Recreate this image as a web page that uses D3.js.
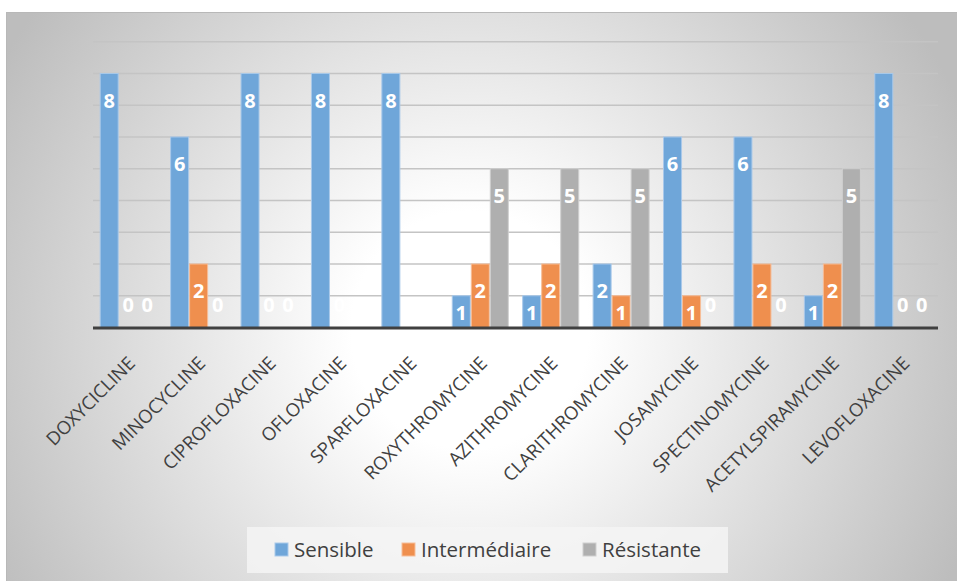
<!DOCTYPE html>
<html>
<head>
<meta charset="utf-8">
<script src="https://cdn.jsdelivr.net/npm/d3@7"></script>
<style>
  html, body { margin: 0; padding: 0; background: #ffffff; }
  svg { display: block; }
</style>
</head>
<body>
<svg id="chart" width="957" height="581"></svg>
<script>
// Antibiotic susceptibility counts per molecule
const categories = [
  "DOXYCICLINE", "MINOCYCLINE", "CIPROFLOXACINE", "OFLOXACINE", "SPARFLOXACINE",
  "ROXYTHROMYCINE", "AZITHROMYCINE", "CLARITHROMYCINE", "JOSAMYCINE",
  "SPECTINOMYCINE", "ACETYLSPIRAMYCINE", "LEVOFLOXACINE"
];
const seriesNames = ["Sensible", "Intermédiaire", "Résistante"];
const sensible      = [8, 6, 8, 8, 8, 1, 1, 2, 6, 6, 1, 8];
const intermediaire = [0, 2, 0, 0, 0, 2, 2, 1, 1, 2, 2, 0];
const resistante    = [0, 0, 0, 0, 0, 5, 5, 5, 0, 0, 5, 0];
const gridValues = [1, 2, 3, 4, 5, 6, 7, 8, 9];

const seriesValues = [sensible, intermediaire, resistante];
const colors = ["#6fa6d9", "#ef8f4e", "#afafaf"];
const strokes = ["#a9c9ea", "#f6bd98", "#cfcfcf"];

const svg = d3.select("#chart");
const W = 957, H = 581;
const font = "'Open Sans', 'Noto Sans', sans-serif";

// background panel with a soft radial shading
const defs = svg.append("defs");
const grad = defs.append("radialGradient")
  .attr("id", "bg").attr("gradientUnits", "userSpaceOnUse")
  .attr("cx", 470).attr("cy", 330).attr("r", 540);
grad.append("stop").attr("offset", 0).attr("stop-color", "#ffffff");
grad.append("stop").attr("offset", 0.22).attr("stop-color", "#ffffff");
grad.append("stop").attr("offset", 1).attr("stop-color", "#bdbdbd");

svg.append("rect").attr("x", 6).attr("y", 12).attr("width", W - 6).attr("height", H - 12)
  .attr("fill", "url(#bg)");
svg.append("line").attr("x1", 6).attr("x2", W).attr("y1", 12.5).attr("y2", 12.5)
  .attr("stroke", "#b8b8b8").attr("stroke-width", 1);
svg.append("line").attr("x1", 6.5).attr("x2", 6.5).attr("y1", 12).attr("y2", H)
  .attr("stroke", "#b8b8b8").attr("stroke-width", 1);

const left = 93, right = 938, baseY = 327.5, topY = 41.7;

const x = d3.scaleBand().domain(categories).range([left, right])
  .paddingInner(0.19).paddingOuter(0.095);
const xs = d3.scaleBand().domain(seriesNames).range([0, x.bandwidth()]);
const y = d3.scaleLinear().domain([0, 9]).range([baseY, topY]);

// horizontal gridlines
svg.append("g").selectAll("line").data(gridValues).join("line")
  .attr("x1", left).attr("x2", right)
  .attr("y1", d => y(d)).attr("y2", d => y(d))
  .attr("stroke", "#c4c4c4").attr("stroke-width", 1.5);

// bars
const groups = svg.append("g").selectAll("g").data(categories).join("g")
  .attr("transform", d => `translate(${x(d)},0)`);

const cells = groups.selectAll("g").data((c, i) => seriesNames.map((s, k) => ({
  series: s, k, value: seriesValues[k][i]
}))).join("g");

cells.append("rect")
  .attr("x", d => xs(d.series) + 0.5)
  .attr("width", xs.bandwidth() - 1)
  .attr("y", d => y(d.value))
  .attr("height", d => baseY - y(d.value))
  .attr("fill", d => colors[d.k])
  .attr("stroke", d => strokes[d.k]).attr("stroke-width", 1);

// value labels, placed inside the bar end
function labelY(v) {
  if (v >= 2) return y(v) + 27;
  if (v === 1) return y(v) + 17;
  return baseY - 23;
}
cells.append("text")
  .attr("x", d => xs(d.series) + xs.bandwidth() / 2)
  .attr("y", d => labelY(d.value))
  .attr("dy", "0.36em")
  .attr("text-anchor", "middle")
  .attr("font-family", font).attr("font-weight", 700).attr("font-size", 20)
  .attr("fill", "#ffffff")
  .text(d => d.value);

// category axis
const xAxis = svg.append("g").attr("transform", `translate(0,${baseY})`)
  .call(d3.axisBottom(x).tickSize(0).tickPadding(0));
xAxis.select(".domain").remove();
svg.append("line").attr("x1", left).attr("x2", right).attr("y1", baseY + 0.5).attr("y2", baseY + 0.5)
  .attr("stroke", "#404040").attr("stroke-width", 3);
xAxis.selectAll(".tick text")
  .attr("font-family", font).attr("font-size", 18.5).attr("fill", "#404040")
  .attr("text-anchor", "end")
  .attr("dy", 0).attr("y", 0)
  .attr("transform", "translate(8,37) rotate(-45)");

// legend
const lg = svg.append("g");
lg.append("rect").attr("x", 247).attr("y", 527).attr("width", 481).attr("height", 46)
  .attr("fill", "#f4f4f4").attr("fill-opacity", 0.85);
const legendX = [275, 402, 583];
const item = lg.selectAll("g").data(seriesNames).join("g")
  .attr("transform", (d, i) => `translate(${legendX[i]},543)`);
item.append("rect").attr("width", 13).attr("height", 13)
  .attr("fill", (d, i) => colors[i]).attr("stroke", (d, i) => strokes[i]);
item.append("text").attr("x", 19).attr("y", 6.5).attr("dy", "0.36em")
  .attr("font-family", font).attr("font-size", 20.5).attr("fill", "#404040")
  .text(d => d);
</script>
</body>
</html>
